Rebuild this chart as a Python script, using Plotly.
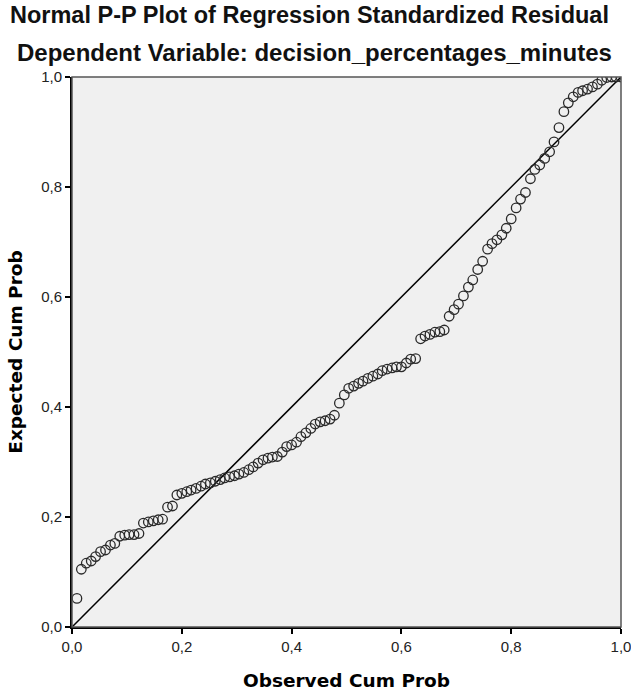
import plotly.graph_objects as go

observed_cum_prob = [
    0.009, 0.017, 0.026, 0.035, 0.043, 0.052, 0.061, 0.070, 0.078, 0.087,
    0.096, 0.104, 0.113, 0.122, 0.130, 0.139, 0.148, 0.157, 0.165, 0.174,
    0.183, 0.191, 0.200, 0.209, 0.217, 0.226, 0.235, 0.243, 0.252, 0.261,
    0.270, 0.278, 0.287, 0.296, 0.304, 0.313, 0.322, 0.330, 0.339, 0.348,
    0.357, 0.365, 0.374, 0.383, 0.391, 0.400, 0.409, 0.417, 0.426, 0.435,
    0.443, 0.452, 0.461, 0.470, 0.478, 0.487, 0.496, 0.504, 0.513, 0.522,
    0.530, 0.539, 0.548, 0.557, 0.565, 0.574, 0.583, 0.591, 0.600, 0.609,
    0.617, 0.626, 0.635, 0.643, 0.652, 0.661, 0.670, 0.678, 0.687, 0.696,
    0.704, 0.713, 0.722, 0.730, 0.739, 0.748, 0.757, 0.765, 0.774, 0.783,
    0.791, 0.800, 0.809, 0.817, 0.826, 0.835, 0.843, 0.852, 0.861, 0.870,
    0.878, 0.887, 0.896, 0.904, 0.913, 0.922, 0.930, 0.939, 0.948, 0.957,
    0.965, 0.974, 0.983, 0.991, 1.000,
]
expected_cum_prob = [
    0.052, 0.105, 0.116, 0.120, 0.128, 0.137, 0.140, 0.149, 0.152, 0.165,
    0.167, 0.168, 0.168, 0.170, 0.189, 0.191, 0.193, 0.195, 0.196, 0.218,
    0.220, 0.240, 0.243, 0.246, 0.249, 0.252, 0.256, 0.260, 0.262, 0.265,
    0.268, 0.271, 0.273, 0.275, 0.278, 0.281, 0.286, 0.291, 0.298, 0.304,
    0.307, 0.309, 0.310, 0.318, 0.328, 0.331, 0.336, 0.346, 0.353, 0.361,
    0.369, 0.373, 0.375, 0.378, 0.385, 0.407, 0.422, 0.434, 0.438, 0.443,
    0.447, 0.452, 0.456, 0.460, 0.466, 0.469, 0.471, 0.473, 0.473, 0.480,
    0.487, 0.488, 0.524, 0.529, 0.532, 0.536, 0.537, 0.540, 0.565, 0.577,
    0.587, 0.602, 0.618, 0.631, 0.650, 0.665, 0.687, 0.697, 0.704, 0.713,
    0.725, 0.742, 0.762, 0.778, 0.790, 0.815, 0.832, 0.840, 0.852, 0.864,
    0.882, 0.908, 0.937, 0.953, 0.964, 0.972, 0.975, 0.978, 0.982, 0.987,
    0.994, 0.999, 1.000, 1.000, 1.000,
]
ref_line = [0.0, 1.0]
tick_vals = [0.0, 0.2, 0.4, 0.6, 0.8, 1.0]
tick_text = ["0,0", "0,2", "0,4", "0,6", "0,8", "1,0"]

title_line1 = "Normal P-P Plot of Regression Standardized Residual"
title_line2 = "Dependent Variable: decision_percentages_minutes"

fig = go.Figure()
fig.add_trace(go.Scatter(
    x=ref_line, y=ref_line, mode="lines",
    line=dict(color="#000000", width=1.5), hoverinfo="skip", showlegend=False,
))
fig.add_trace(go.Scatter(
    x=observed_cum_prob, y=expected_cum_prob, mode="markers",
    marker=dict(symbol="circle-open", size=9.5, color="#2a2a2a", line=dict(width=1.3)),
    showlegend=False,
))

axis_common = dict(
    range=[0, 1], tickvals=tick_vals, ticktext=tick_text, automargin=False,
    ticklabeloverflow="allow",
    showgrid=False, zeroline=False, showline=True, linecolor="#000000", linewidth=2,
    ticks="outside", ticklen=5, tickwidth=1.5, tickcolor="#000000",
    tickfont=dict(family="Liberation Sans, Arial, sans-serif", size=15, color="#222222"),
)
title_font = dict(family="DejaVu Sans, Verdana, sans-serif", size=18.5, color="#000000", weight="bold")

fig.update_layout(
    width=631, height=694,
    margin=dict(l=72, r=10, t=77, b=67),
    paper_bgcolor="#ffffff", plot_bgcolor="#f0f0f0",
    xaxis=dict(**axis_common, title=dict(text="Observed Cum Prob", standoff=20, font=title_font)),
    yaxis=dict(**axis_common, title=dict(text="Expected Cum Prob", standoff=14, font=title_font)),
    shapes=[dict(type="rect", xref="paper", yref="paper", x0=0, y0=0, x1=1, y1=1,
                 line=dict(color="#555555", width=1.5), layer="above")],
    annotations=[
        dict(text=title_line1, xref="paper", yref="paper", x=-0.117, y=(627 - 15) / 550,
             xanchor="left", yanchor="middle", showarrow=False,
             font=dict(family="Liberation Sans, Arial, sans-serif", size=23.5, color="#111111", weight="bold")),
        dict(text=title_line2, xref="paper", yref="paper", x=-0.104, y=(627 - 53) / 550,
             xanchor="left", yanchor="middle", showarrow=False,
             font=dict(family="Liberation Sans, Arial, sans-serif", size=24, color="#111111", weight="bold")),
    ],
)

fig.write_html("out.html", config={"displayModeBar": False},
               post_script="document.body.style.margin='0';")
